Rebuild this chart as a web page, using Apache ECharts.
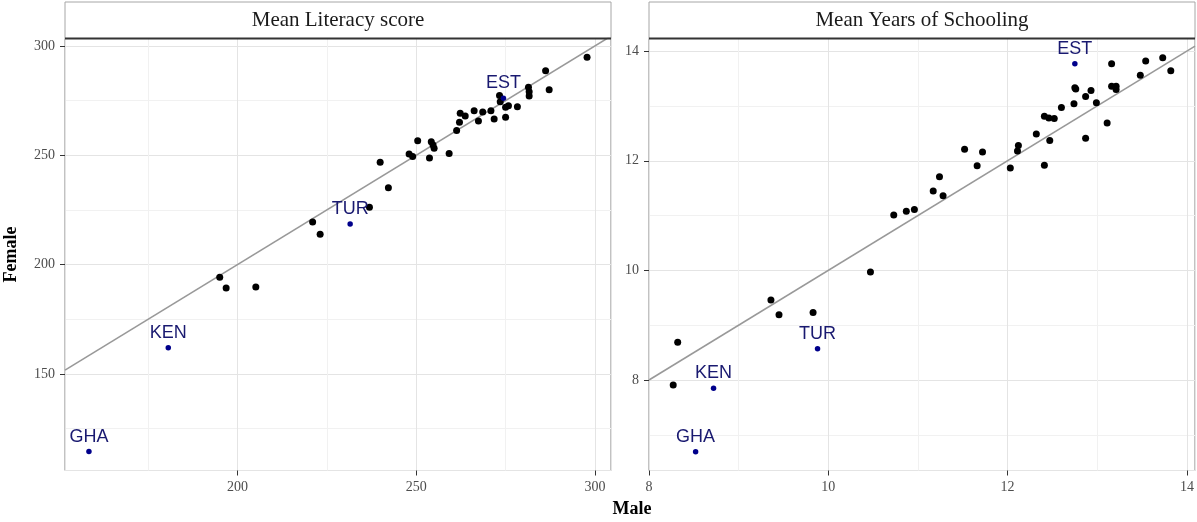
<!DOCTYPE html>
<html>
<head>
<meta charset="utf-8">
<script src="https://cdn.jsdelivr.net/npm/echarts@6/dist/echarts.min.js"></script>
<style>
  html, body { margin: 0; padding: 0; background: #fff; }
  #chart { width: 1197px; height: 522px; }
</style>
</head>
<body>
<div id="chart"></div>
<script>
// * two facet scatter: Female vs Male, with y = x reference line

const chart = echarts.init(document.getElementById('chart'))

// ? Mean Literacy score (unlabelled countries)
const litMale = [297.8, 286.2, 287.2, 281.4, 281.6, 281.6, 273.3, 273.5, 275.0, 275.8, 278.3, 275.0, 271.8, 270.9, 268.6, 266.2, 267.4, 262.3, 263.7, 262.1, 261.3, 259.2, 250.4, 254.2, 254.7, 255.0, 248.0, 249.0, 253.7, 239.9, 242.2, 236.9, 221.0, 223.1, 195.0, 196.8, 205.1]
const litFemale = [294.8, 288.7, 280.0, 281.1, 279.1, 277.1, 277.3, 274.5, 272.0, 272.6, 272.2, 267.4, 266.6, 270.3, 269.8, 270.4, 265.7, 269.2, 268.0, 265.1, 261.3, 250.8, 256.6, 256.2, 254.7, 253.2, 250.6, 249.4, 248.7, 246.8, 235.1, 226.2, 219.5, 213.9, 194.2, 189.3, 189.7]
// ? labelled countries
const litCountries = ['GHA', 'KEN', 'TUR', 'EST']
const litLabMale = [158.4, 180.6, 231.5, 274.4]
const litLabFemale = [114.5, 162.0, 218.6, 276.1]
const litXRange = [151.7, 304.5]
const litYRange = [105.8, 303.4]

// ? Mean Years of Schooling
const schMale = [13.73, 13.54, 13.82, 13.48, 13.16, 12.75, 12.76, 13.16, 13.21, 13.21, 12.93, 12.87, 12.99, 12.74, 12.60, 12.41, 12.46, 12.52, 13.11, 12.32, 12.87, 12.47, 12.12, 12.11, 11.52, 11.72, 11.66, 12.03, 12.41, 11.24, 11.17, 11.28, 10.73, 10.87, 10.96, 10.47, 9.36, 9.45, 9.83, 8.32, 8.27]
const schFemale = [13.88, 13.82, 13.64, 13.56, 13.77, 13.33, 13.31, 13.36, 13.36, 13.30, 13.28, 13.17, 13.06, 13.04, 12.97, 12.81, 12.78, 12.77, 12.69, 12.49, 12.41, 12.37, 12.28, 12.18, 12.21, 12.16, 11.91, 11.87, 11.92, 11.71, 11.45, 11.36, 11.01, 11.08, 11.11, 9.97, 9.46, 9.19, 9.23, 8.69, 7.91]
const schCountries = ['GHA', 'KEN', 'TUR', 'EST']
const schLabMale = [8.52, 8.72, 9.88, 12.75]
const schLabFemale = [6.69, 7.85, 8.57, 13.77]
const schXRange = [8, 14.09]
const schYRange = [6.35, 14.23]

const stripTitles = ['Mean Literacy score', 'Mean Years of Schooling']

const serif = '"Liberation Serif", "DejaVu Serif", serif'
const sans = '"Liberation Sans", Arial, sans-serif'

// panel geometry
const panelTop = 38.5
const panelH = 432
const panelW = 546
const panelLeft = [65, 649]

const pairs = (xs, ys) => xs.map((x, i) => [x, ys[i]])
const labelled = (names, xs, ys) => names.map((n, i) => ({ name: n, value: [xs[i], ys[i]] }))

function xAxisOf (idx, range, showMin) {
  return {
    gridIndex: idx,
    type: 'value',
    min: range[0],
    max: range[1],
    splitNumber: 3,
    axisLine: { show: false },
    axisTick: { show: true, length: 5, lineStyle: { color: '#333' } },
    axisLabel: { showMinLabel: showMin, showMaxLabel: false, margin: 10, color: '#4d4d4d', fontFamily: serif, fontSize: 14 },
    splitLine: { show: true, lineStyle: { color: '#e4e4e4', width: 1 } },
    minorTick: { show: false, splitNumber: 2 },
    minorSplitLine: { show: true, lineStyle: { color: '#f1f1f1', width: 1 } }
  }
}

function yAxisOf (idx, range, name) {
  return {
    gridIndex: idx,
    type: 'value',
    min: range[0],
    max: range[1],
    splitNumber: 4,
    name: name,
    nameLocation: 'middle',
    nameRotate: 90,
    nameGap: 45,
    nameTextStyle: { fontFamily: serif, fontWeight: 'bold', fontSize: 18, color: '#000' },
    axisLine: { show: false },
    axisTick: { show: true, length: 5, lineStyle: { color: '#333' } },
    axisLabel: { showMinLabel: false, showMaxLabel: false, margin: 10, color: '#4d4d4d', fontFamily: serif, fontSize: 14 },
    splitLine: { show: true, lineStyle: { color: '#e4e4e4', width: 1 } },
    minorTick: { show: false, splitNumber: 2 },
    minorSplitLine: { show: true, lineStyle: { color: '#f1f1f1', width: 1 } }
  }
}

function refLine (idx, range) {
  return {
    type: 'line',
    xAxisIndex: idx,
    yAxisIndex: idx,
    data: range.map(v => [v, v]),
    symbol: 'none',
    silent: true,
    clip: true,
    lineStyle: { color: '#999', width: 1.6 },
    z: 1
  }
}

function blackPts (idx, xs, ys) {
  return {
    type: 'scatter',
    xAxisIndex: idx,
    yAxisIndex: idx,
    data: pairs(xs, ys),
    symbolSize: 7,
    itemStyle: { color: '#000', opacity: 1 },
    z: 3
  }
}

function bluePts (idx, names, xs, ys) {
  return {
    type: 'scatter',
    xAxisIndex: idx,
    yAxisIndex: idx,
    data: labelled(names, xs, ys),
    symbolSize: 5.5,
    itemStyle: { color: '#00008b', opacity: 1 },
    label: {
      show: true,
      position: 'top',
      distance: 3,
      formatter: '{b}',
      color: '#191970',
      opacity: 1,
      fontFamily: sans,
      fontSize: 18
    },
    z: 4
  }
}

// strips above each panel
const graphics = []
panelLeft.forEach((left, i) => {
  graphics.push({
    type: 'rect',
    shape: { x: left, y: 2, width: panelW, height: panelTop - 2 },
    style: { fill: '#fff', stroke: '#a6a6a6', lineWidth: 1 }
  })
  graphics.push({
    type: 'line',
    shape: { x1: left, y1: panelTop, x2: left + panelW, y2: panelTop },
    style: { stroke: '#333', lineWidth: 2 },
    z: 10
  })
  graphics.push({
    type: 'text',
    x: left + panelW / 2,
    y: 20.5,
    style: { text: stripTitles[i], fontFamily: serif, fontSize: 21, fill: '#1a1a1a', textAlign: 'center', textVerticalAlign: 'middle' }
  })
})
graphics.push({
  type: 'text',
  x: 632,
  y: 509,
  style: { text: 'Male', fontFamily: serif, fontWeight: 'bold', fontSize: 18, fill: '#000', textAlign: 'center', textVerticalAlign: 'middle' }
})

const option = {
  animation: false,
  backgroundColor: '#fff',
  grid: panelLeft.map(left => ({
    left: left,
    top: panelTop,
    width: panelW,
    height: panelH,
    show: true,
    backgroundColor: '#fff',
    borderColor: '#858585',
    borderWidth: 1
  })),
  xAxis: [xAxisOf(0, litXRange, false), xAxisOf(1, schXRange, true)],
  yAxis: [yAxisOf(0, litYRange, 'Female'), yAxisOf(1, schYRange, '')],
  series: [
    refLine(0, litXRange),
    blackPts(0, litMale, litFemale),
    bluePts(0, litCountries, litLabMale, litLabFemale),
    refLine(1, schXRange),
    blackPts(1, schMale, schFemale),
    bluePts(1, schCountries, schLabMale, schLabFemale)
  ],
  graphic: graphics
}

chart.setOption(option)
</script>
</body>
</html>
